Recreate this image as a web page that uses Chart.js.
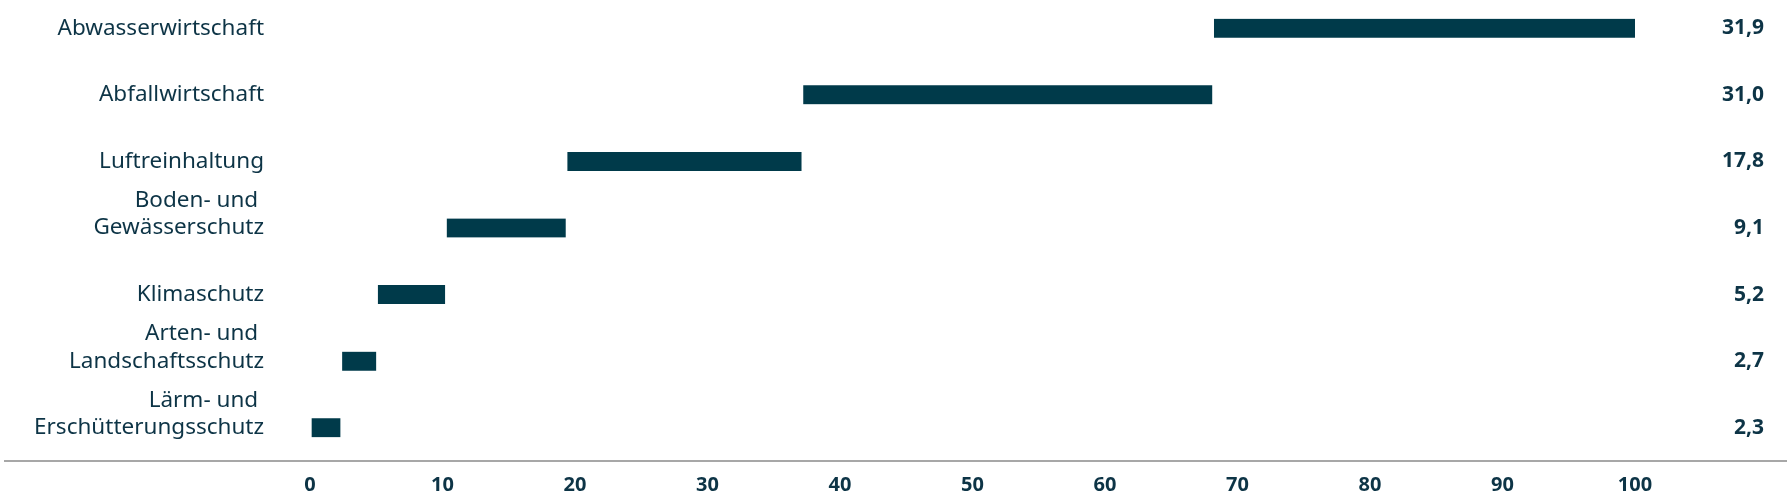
<!DOCTYPE html>
<html>
<head>
<meta charset="utf-8">
<script src="https://cdn.jsdelivr.net/npm/chart.js@4/dist/chart.umd.min.js"></script>
<style>
  html, body { margin: 0; padding: 0; background: #fff; }
  #wrap { width: 1790px; height: 500px; position: relative; overflow: hidden; }
  /* the top row sits a little above the page edge in the original */
  #inner { position: absolute; left: 0; top: -5px; width: 1790px; height: 505px; }
</style>
</head>
<body>
<div id="wrap"><div id="inner"><canvas id="chart"></canvas></div></div>
<script>
// categories top to bottom, two-line labels get an empty third line so the
// second line sits level with the bar
const categories = [
  'Abwasserwirtschaft',
  'Abfallwirtschaft',
  'Luftreinhaltung',
  ['Boden- und ', 'Gewässerschutz', ''],
  'Klimaschutz',
  ['Arten- und ', 'Landschaftsschutz', ''],
  ['Lärm- und ', 'Erschütterungsschutz', ''],
];

// share in percent
const shares = [31.9, 31.0, 17.8, 9.1, 5.2, 2.7, 2.3];

const xTicks = [0, 10, 20, 30, 40, 50, 60, 70, 80, 90, 100];

const barColor = '#003a4a';
const textColor = '#0d3446';

// bars stack up from the bottom row, so walk the list backwards
const ranges = new Array(shares.length);
let running = 0;
for (let i = shares.length - 1; i >= 0; i--) {
  ranges[i] = [running, running + shares[i]];
  running += shares[i];
}

const fmt = (v) => v.toFixed(1).replace('.', ',');

// full width baseline under the bars plus the value column on the right
const extras = {
  id: 'extras',
  afterDraw(chart) {
    const ctx = chart.ctx;
    const y = chart.scales.x.top;
    ctx.save();
    ctx.strokeStyle = '#8a8a8a';
    ctx.lineWidth = 1.5;
    ctx.beginPath();
    ctx.moveTo(4, y);
    ctx.lineTo(chart.width - 3, y);
    ctx.stroke();

    const meta = chart.getDatasetMeta(0);
    ctx.fillStyle = textColor;
    ctx.font = 'bold 21px "Noto Sans"';
    ctx.textAlign = 'right';
    ctx.textBaseline = 'middle';
    meta.data.forEach((bar, i) => {
      ctx.fillText(fmt(shares[i]), chart.chartArea.right + 129, bar.y);
    });
    ctx.restore();
  },
};

const ctx = document.getElementById('chart').getContext('2d');
new Chart(ctx, {
  type: 'bar',
  data: {
    labels: categories,
    datasets: [{
      data: ranges,
      backgroundColor: barColor,
      borderColor: '#ffffff',
      borderWidth: { left: 2, right: 0, top: 0, bottom: 0 },
      borderSkipped: false,
      barThickness: 19,
    }],
  },
  options: {
    indexAxis: 'y',
    responsive: true,
    maintainAspectRatio: false,
    animation: false,
    layout: { padding: { top: 0, right: 155, left: 0, bottom: 0 } },
    plugins: {
      legend: { display: false },
      tooltip: { enabled: false },
    },
    scales: {
      x: {
        min: 0,
        max: 100,
        afterBuildTicks: (scale) => { scale.ticks = xTicks.map((v) => ({ value: v })); },
        afterFit: (scale) => { scale.height = 39; },
        grid: { display: false, drawTicks: false },
        border: { display: false },
        ticks: {
          color: textColor,
          padding: 12,
          font: { family: 'Noto Sans', size: 20, weight: 'bold' },
        },
      },
      y: {
        afterFit: (scale) => {
          scale.width = 310;
          // tall multi-line labels should not push the plot area in
          scale.paddingTop = 0;
          scale.paddingBottom = 0;
        },
        grid: { display: false, drawTicks: false },
        border: { display: false },
        ticks: {
          autoSkip: false,
          color: textColor,
          padding: 46,
          font: { family: 'Noto Sans', size: 22.5, lineHeight: 1.22 },
        },
      },
    },
  },
  plugins: [extras],
});
</script>
</body>
</html>
